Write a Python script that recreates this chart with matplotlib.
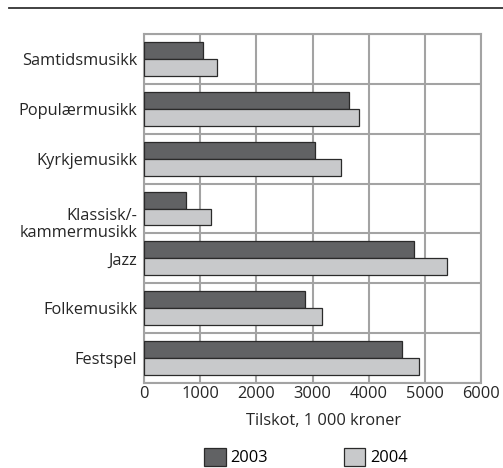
import numpy as np
import matplotlib
matplotlib.use('Agg')
import matplotlib.pyplot as plt
import matplotlib.transforms as mtransforms
from matplotlib.patches import Patch
from matplotlib.lines import Line2D

plt.rcParams['font.family'] = ['Open Sans', 'DejaVu Sans']

# ── Data ──────────────────────────────────────────────────────────────────────
categories = ['Samtidsmusikk', 'Populærmusikk', 'Kyrkjemusikk',
              'Klassisk/-\nkammermusikk', 'Jazz', 'Folkemusikk', 'Festspel']
vals_2003 = [1050, 3650, 3050, 750, 4800, 2870, 4600]
vals_2004 = [1300, 3820, 3500, 1200, 5400, 3170, 4900]
xticks = [0, 1000, 2000, 3000, 4000, 5000, 6000]
years = ['2003', '2004']

DARK = '#616264'
LIGHT = '#c8c9cb'
GRID = '#a3a3a3'
EDGE = '#2a2a2a'
TXT = '#262626'
FS = 11.8

fig = plt.figure(figsize=(5.03, 4.68), dpi=100)
ax = fig.add_axes([144/503, 1 - 383/468, 337/503, 349/468])

y = np.arange(len(categories))
h = 0.34
ax.barh(y - h/2, vals_2003, height=h, color=DARK, edgecolor=EDGE, linewidth=0.9, zorder=3)
ax.barh(y + h/2, vals_2004, height=h, color=LIGHT, edgecolor=EDGE, linewidth=0.9, zorder=3)

ax.set_xlim(0, 6000)
ax.set_ylim(len(categories) - 0.5, -0.5)
ax.set_xticks(xticks)
ax.set_xticklabels([str(t) for t in xticks], fontsize=FS, color=TXT)
ax.set_yticks(y)
ax.set_yticklabels(categories, fontsize=FS, color=TXT, linespacing=1.05)
ax.set_yticks(np.arange(-0.5, len(categories), 1.0), minor=True)
ax.tick_params(axis='both', which='both', length=0)
ax.tick_params(axis='y', pad=5)
ax.tick_params(axis='x', pad=2)

ax.grid(True, axis='x', which='major', color=GRID, linewidth=1.5, zorder=0)
ax.grid(True, axis='y', which='minor', color=GRID, linewidth=1.5, zorder=0)
for s in ax.spines.values():
    s.set_color(GRID)
    s.set_linewidth(1.5)

# shift the two-line label down a bit, as in the original
lbl = ax.get_yticklabels()[3]
lbl.set_transform(lbl.get_transform() +
                  mtransforms.ScaledTranslation(0, -14/100, fig.dpi_scale_trans))

ax.set_xlabel('Tilskot, 1 000 kroner', fontsize=FS, color=TXT)
ax.xaxis.set_label_coords((324 - 144) / 337, -0.085)

# legend
handles = [Patch(facecolor=DARK, edgecolor=EDGE, linewidth=0.9),
           Patch(facecolor=LIGHT, edgecolor=EDGE, linewidth=0.9)]
fig.legend(handles, years, loc='center', bbox_to_anchor=(306/503, 1 - 457/468),
           ncol=2, frameon=False, fontsize=FS, handlelength=1.3, handleheight=1.3,
           columnspacing=4.6, handletextpad=0.3)

# top rule
fig.add_artist(Line2D([9/503, 1], [1 - 8/468, 1 - 8/468], color='#333333', linewidth=1.3))

fig.savefig('out.png', dpi=100)
